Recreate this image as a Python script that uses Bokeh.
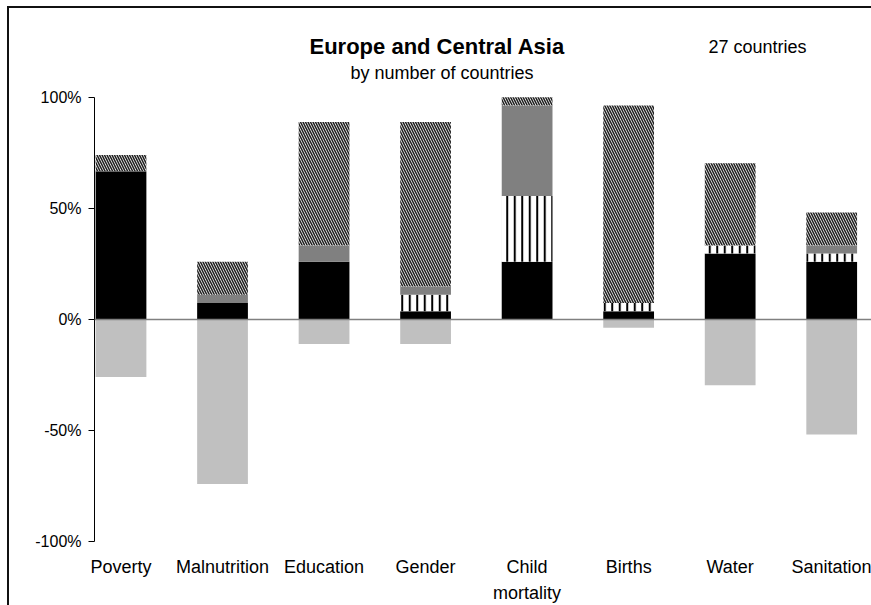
from bokeh.plotting import figure
from bokeh.models import FixedTicker, Span, Range1d, PrintfTickFormatter
from bokeh.core.properties import value
from bokeh.embed import file_html
from bokeh.resources import INLINE

# ---- data (counts of countries, out of 27) ----
categories = ["Poverty", "Malnutrition", "Education", "Gender", "Child mortality", "Births", "Water", "Sanitation"]
tick_labels = ["Poverty", "Malnutrition", "Education", "Gender", "Child\nmortality", "Births", "Water", "Sanitation"]
n_countries = 27
solid_black = [18, 2, 7, 1, 7, 1, 8, 7]
vertical_striped = [0, 0, 0, 2, 8, 1, 1, 1]
dark_gray = [0, 1, 2, 1, 11, 0, 0, 1]
diagonal_hatched = [2, 4, 15, 20, 1, 24, 10, 4]
negative_light = [7, 20, 3, 3, 0, 1, 8, 14]
y_ticks = [-100, -50, 0, 50, 100]

title_text = "Europe and Central Asia"
subtitle_text = "by number of countries"
count_text = "27 countries"

FONT = "Liberation Sans"

def pct(v):
    return [c / n_countries * 100.0 for c in v]

xs = list(range(len(categories)))
segments = [solid_black, vertical_striped, dark_gray, diagonal_hatched]
bottoms = [0.0] * len(categories)
stack = []
for seg in segments:
    tops = [b + q for b, q in zip(bottoms, pct(seg))]
    stack.append((list(bottoms), tops))
    bottoms = tops

p = figure(width=871, height=605, output_backend="svg", toolbar_location=None,
           x_range=Range1d(-0.261, 7.392), y_range=Range1d(-100, 143.6),
           min_border_left=94, min_border_right=0, min_border_top=0, min_border_bottom=63,
           title=None)
p.styles = {
    "background": "linear-gradient(#111,#111) 7px 6px / 866px 2px no-repeat, "
                  "linear-gradient(#111,#111) 7px 6px / 2px 600px no-repeat, white"
}
p.outline_line_color = None
p.xgrid.visible = False
p.ygrid.visible = False
p.background_fill_alpha = 0
p.border_fill_alpha = 0

BW = 0.5
b, t = stack[0]
p.vbar(x=xs, width=BW, bottom=b, top=t, fill_color="black", line_color=None)
b, t = stack[1]
p.vbar(x=xs, width=BW, bottom=b, top=t, fill_color="white", line_color=None,
       hatch_pattern="vertical_line", hatch_color="black", hatch_scale=7.5, hatch_weight=2)
b, t = stack[2]
p.vbar(x=xs, width=BW, bottom=b, top=t, fill_color="#808080", line_color=None)
b, t = stack[3]
p.vbar(x=xs, width=BW, bottom=b, top=t, fill_color="white", line_color=None,
       hatch_pattern="left_diagonal_line", hatch_color="#222222", hatch_scale=5, hatch_weight=1.6)
p.vbar(x=xs, width=BW, bottom=0, top=[-v for v in pct(negative_light)], fill_color="#C0C0C0", line_color=None)

p.add_layout(Span(location=0, dimension="width", line_color="#808080", line_width=1.5))

# y axis
yax = p.yaxis[0]
yax.bounds = (-100, 100)
yax.ticker = FixedTicker(ticks=y_ticks)
yax.formatter = PrintfTickFormatter(format="%d%%")
yax.major_tick_out = 6
yax.major_tick_in = 0
yax.minor_tick_line_color = None
yax.axis_line_color = "black"
yax.major_tick_line_color = "black"
yax.major_label_standoff = 7
yax.major_label_text_font = FONT
yax.major_label_text_font_size = "16px"
yax.major_label_text_color = "black"

# x axis (category labels at bottom)
xax = p.xaxis[0]
xax.ticker = FixedTicker(ticks=xs)
xax.major_label_overrides = {i: lab for i, lab in enumerate(tick_labels)}
xax.axis_line_color = None
xax.major_tick_line_color = None
xax.minor_tick_line_color = None
xax.major_tick_out = 0
xax.major_label_standoff = 15
xax.major_label_text_font = FONT
xax.major_label_text_font_size = "18px"
xax.major_label_text_color = "black"
xax.major_label_text_line_height = 1.3

# header texts (inside frame, data coordinates)
p.text(x=[1.8566], y=[123.06], text=[title_text], text_align="left", text_baseline="alphabetic",
       text_font=value(FONT), text_font_style="bold", text_font_size="22px", text_color="black")
p.text(x=[2.2604], y=[110.9], text=[subtitle_text], text_align="left", text_baseline="alphabetic",
       text_font=value(FONT), text_font_size="18px", text_color="black")
p.text(x=[5.7864], y=[122.5], text=[count_text], text_align="left", text_baseline="alphabetic",
       text_font=value(FONT), text_font_size="18px", text_color="black")

open("out.html", "w").write(file_html(p, INLINE))
